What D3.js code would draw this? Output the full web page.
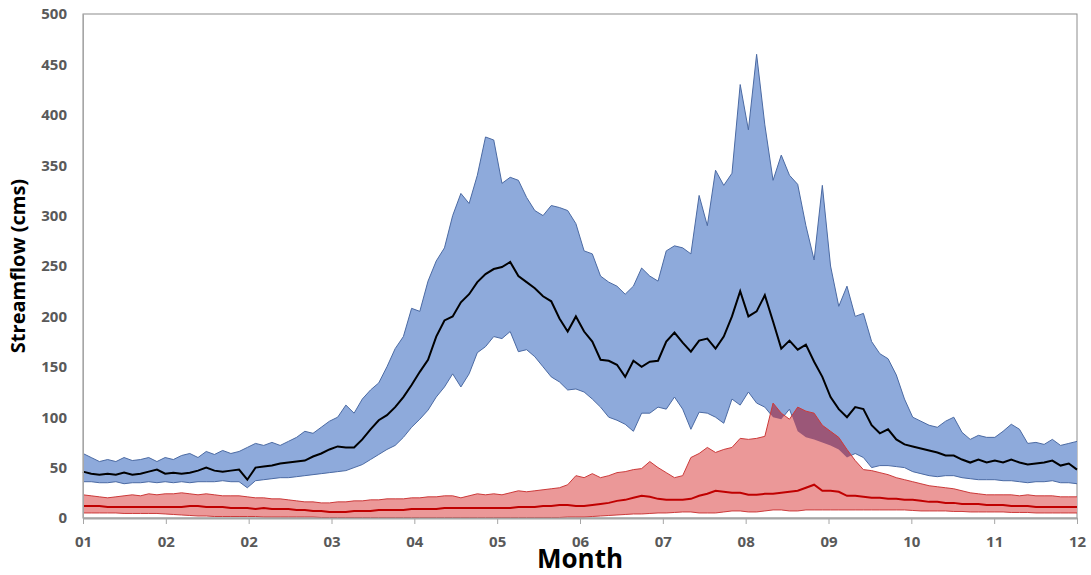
<!DOCTYPE html>
<html>
<head>
<meta charset="utf-8">
<script src="https://cdn.jsdelivr.net/npm/d3@7"></script>
<style>
  body { margin: 0; background: #fff; }
  text { font-family: "Open Sans", "Liberation Sans", sans-serif; }
</style>
</head>
<body>
<svg id="chart" width="1091" height="575"></svg>
<script>
// Day-of-year sample positions (every third day)
const days = d3.range(0, 364, 3);

// Streamflow envelope and median, first station (cms)
const blueUpper = [
  64, 60, 56, 58, 56, 60, 57, 58, 60, 56,
  60, 58, 62, 64, 60, 66, 63, 67, 64, 66,
  70, 74, 72, 75, 72, 76, 80, 86, 84, 90,
  96, 100, 112, 104, 118, 127, 134, 150, 168, 180,
  208, 205, 235, 255, 268, 300, 322, 312, 340, 378,
  375, 332, 338, 335, 318, 305, 300, 310, 308, 305,
  292, 265, 262, 240, 234, 230, 222, 230, 248, 240,
  235, 265, 270, 268, 262, 320, 290, 345, 330, 342,
  430, 385, 460, 390, 335, 360, 340, 331, 290, 256,
  330, 250, 210, 230, 200, 203, 175, 163, 158, 142,
  118, 100, 96, 92, 90, 96, 100, 85, 78, 82,
  80, 80, 86, 93, 88, 74, 75, 73, 78, 72,
  74, 76
];
const blueLower = [
  36, 36, 35, 35, 36, 34, 35, 35, 36, 35,
  36, 35, 36, 35, 36, 36, 36, 37, 36, 36,
  30, 37, 38, 39, 40, 40, 41, 42, 43, 44,
  45, 46, 47, 50, 53, 58, 63, 68, 72, 80,
  90, 98, 107, 120, 130, 143, 130, 143, 164, 170,
  180, 178, 185, 165, 167, 160, 150, 140, 135, 127,
  128, 125, 118, 110, 100, 97, 93, 86, 104, 104,
  110, 108, 120, 108, 88, 105, 104, 100, 94, 118,
  112, 125, 114, 110, 100, 98, 108, 86, 80, 78,
  75, 72, 68, 60, 64, 60, 50, 52, 52, 51,
  50, 46, 44, 42, 41, 42, 42, 40, 39, 38,
  38, 38, 37, 37, 36, 35, 36, 36, 37, 35,
  35, 34
];
const blueMedian = [
  46, 44, 43, 44, 43, 45, 43, 44, 46, 48,
  44, 45, 44, 45, 47, 50, 47, 46, 47, 48,
  38, 50, 51, 52, 54, 55, 56, 57, 61, 64,
  68, 71, 70, 70, 78, 88, 97, 102, 110, 120,
  132, 145, 157, 180, 196, 200, 214, 222, 234, 242,
  247, 249, 254, 240, 234, 228, 220, 215, 198, 185,
  200, 185, 175, 157, 156, 152, 140, 156, 150, 155,
  156, 175, 184, 174, 165, 176, 178, 168, 180, 200,
  225, 200, 205, 221, 195, 168, 176, 167, 172, 155,
  140, 120, 108, 100, 110, 108, 92, 84, 88, 78,
  73, 71, 69, 67, 65, 62, 62, 58, 55, 58,
  55, 57, 55, 58, 55, 53, 54, 55, 57, 52,
  54, 48
];

// Streamflow envelope and median, second station (cms)
const redUpper = [
  23, 22, 21, 20, 21, 22, 23, 22, 24, 23,
  24, 24, 25, 24, 23, 24, 23, 22, 22, 22,
  21, 20, 20, 19, 19, 18, 17, 16, 16, 15,
  15, 16, 16, 17, 17, 18, 18, 19, 19, 19,
  20, 20, 21, 21, 22, 22, 20, 22, 24, 23,
  24, 23, 25, 27, 26, 27, 28, 29, 30, 33,
  42, 40, 44, 40, 42, 45, 46, 48, 49, 56,
  50, 45, 40, 42, 60, 64, 70, 65, 68, 70,
  79, 78, 79, 81, 114, 104, 98, 110, 106, 104,
  92, 86, 80, 68, 57, 48, 47, 45, 43, 40,
  38, 36, 34, 32, 31, 30, 29, 27, 25, 24,
  23, 23, 23, 23, 22, 23, 22, 22, 22, 21,
  21, 21
];
const redLower = [
  5, 5, 5, 5, 5, 4.5, 4.5, 4.5, 4.5, 4.5,
  4, 3.5, 3, 2.5, 2, 2, 1.5, 1.5, 1.5, 1.5,
  1.5, 1.5, 1, 1, 1, 1, 1, 1, 1, 0.5,
  0.5, 0.5, 0.5, 0.5, 0.5, 0.5, 0.5, 0.5, 0.5, 0.5,
  0.5, 0.5, 0.5, 0.5, 0.5, 0.5, 0.5, 0.5, 0.5, 0.5,
  0.5, 0.5, 0.5, 0.5, 0.5, 0.5, 0.5, 0.5, 0.5, 1,
  1, 1, 1.5, 2, 2.5, 3, 3.5, 4, 4, 4.5,
  5, 5, 5.5, 6, 6, 5, 5, 5, 6, 7,
  7, 6, 6, 7, 8, 8, 7, 7, 8, 8,
  8, 8, 8, 8, 8, 8, 8, 8, 8, 8,
  8, 7.5, 7, 7, 7, 7, 6.5, 6.5, 6, 6,
  6, 6, 6, 5.5, 5.5, 5.5, 5, 5, 5, 5,
  5, 5
];
const redMedian = [
  12, 12, 12, 11, 11, 11, 11, 11, 11, 11,
  11, 11, 11, 12, 12, 11, 11, 11, 10, 10,
  10, 9, 10, 9, 9, 9, 8, 8, 7, 7,
  6, 6, 6, 7, 7, 7, 8, 8, 8, 8,
  9, 9, 9, 9, 10, 10, 10, 10, 10, 10,
  10, 10, 10, 11, 11, 11, 12, 12, 13, 13,
  12, 12, 13, 14, 15, 17, 18, 20, 22, 21,
  19, 18, 18, 18, 19, 22, 24, 27, 26, 25,
  25, 23, 23, 24, 24, 25, 26, 27, 30, 33,
  27, 27, 26, 22, 22, 21, 20, 20, 19, 19,
  18, 18, 17, 16, 16, 15, 15, 14, 14, 14,
  13, 13, 13, 12, 12, 12, 11, 11, 11, 11,
  11, 11
];

const monthLabels = ["01", "02", "02", "03", "04", "05", "06", "07", "08", "09", "10", "11", "12"];
const yTicks = [0, 50, 100, 150, 200, 250, 300, 350, 400, 450, 500];

const svg = d3.select("#chart");
const plotLeft = 83, plotRight = 1077, plotTop = 14, plotBottom = 518;
const dayMax = days[days.length - 1];

const x = d3.scaleLinear().domain([0, dayMax]).range([plotLeft, plotRight]);
const y = d3.scaleLinear().domain([0, 500]).range([plotBottom, plotTop]);

const rows = days.map((d, i) => ({
  d,
  bu: blueUpper[i], bl: blueLower[i], bm: blueMedian[i],
  ru: redUpper[i], rl: redLower[i], rm: redMedian[i]
}));

const blueArea = d3.area().x(r => x(r.d)).y0(r => y(r.bl)).y1(r => y(r.bu));
const redArea = d3.area().x(r => x(r.d)).y0(r => y(r.rl)).y1(r => y(r.ru));
const line = key => d3.line().x(r => x(r.d)).y(r => y(r[key]));

// Plot frame
svg.append("rect")
  .attr("x", plotLeft).attr("y", plotTop)
  .attr("width", plotRight - plotLeft).attr("height", plotBottom - plotTop)
  .attr("fill", "none").attr("stroke", "#8c8c8c").attr("stroke-width", 1);

// Clip shape for the overlap between the two envelopes
const defs = svg.append("defs");
defs.append("clipPath").attr("id", "blue-clip")
  .append("path").attr("d", blueArea(rows));

// First station envelope
svg.append("path").attr("d", blueArea(rows))
  .attr("fill", "#8eaadb").attr("stroke", "none");
svg.append("path").attr("d", line("bu")(rows))
  .attr("fill", "none").attr("stroke", "#4b6aa3").attr("stroke-width", 1);
svg.append("path").attr("d", line("bl")(rows))
  .attr("fill", "none").attr("stroke", "#4b6aa3").attr("stroke-width", 1);

// Second station envelope, darker where it lies inside the first
svg.append("path").attr("d", redArea(rows))
  .attr("fill", "#eb9898").attr("stroke", "none");
svg.append("path").attr("d", redArea(rows))
  .attr("clip-path", "url(#blue-clip)")
  .attr("fill", "#9b5778").attr("stroke", "none");
svg.append("path").attr("d", line("ru")(rows))
  .attr("fill", "none").attr("stroke", "#cc3a3a").attr("stroke-width", 1);
svg.append("path").attr("d", line("rl")(rows))
  .attr("fill", "none").attr("stroke", "#cc3a3a").attr("stroke-width", 1);

// Medians
svg.append("path").attr("d", line("rm")(rows))
  .attr("fill", "none").attr("stroke", "#c00000").attr("stroke-width", 2);
svg.append("path").attr("d", line("bm")(rows))
  .attr("fill", "none").attr("stroke", "#000").attr("stroke-width", 2);

// Axes
const xTickVals = monthLabels.map((_, i) => i * dayMax / 12);
const xAxis = d3.axisBottom(x)
  .tickValues(xTickVals)
  .tickFormat((d, i) => monthLabels[i])
  .tickSize(6).tickPadding(12).tickSizeOuter(0);
const gx = svg.append("g").attr("transform", `translate(0,${plotBottom})`).call(xAxis);
gx.select(".domain").attr("stroke", "#a6a6a6").attr("stroke-width", 2);
gx.selectAll(".tick line").attr("stroke", "#a6a6a6").attr("stroke-width", 1);
gx.selectAll(".tick text")
  .attr("fill", "#595959").attr("font-size", 15).attr("font-weight", "bold")
  .style("font-family", "'Open Sans', sans-serif");

const yAxis = d3.axisLeft(y).tickValues(yTicks).tickSize(0).tickPadding(16);
const gy = svg.append("g").attr("transform", `translate(${plotLeft},0)`).call(yAxis);
gy.select(".domain").attr("stroke", "#a6a6a6").attr("stroke-width", 1);
gy.selectAll(".tick text")
  .attr("fill", "#595959").attr("font-size", 15).attr("font-weight", "bold")
  .style("font-family", "'Open Sans', sans-serif");

// Axis titles
svg.append("text")
  .attr("x", 580).attr("y", 568)
  .attr("text-anchor", "middle")
  .attr("font-size", 26).attr("font-weight", "bold").attr("fill", "#000")
  .text("Month");

svg.append("text")
  .attr("transform", "translate(25,266) rotate(-90)")
  .attr("text-anchor", "middle")
  .attr("font-size", 20).attr("font-weight", "bold").attr("fill", "#000")
  .text("Streamflow (cms)");
</script>
</body>
</html>
